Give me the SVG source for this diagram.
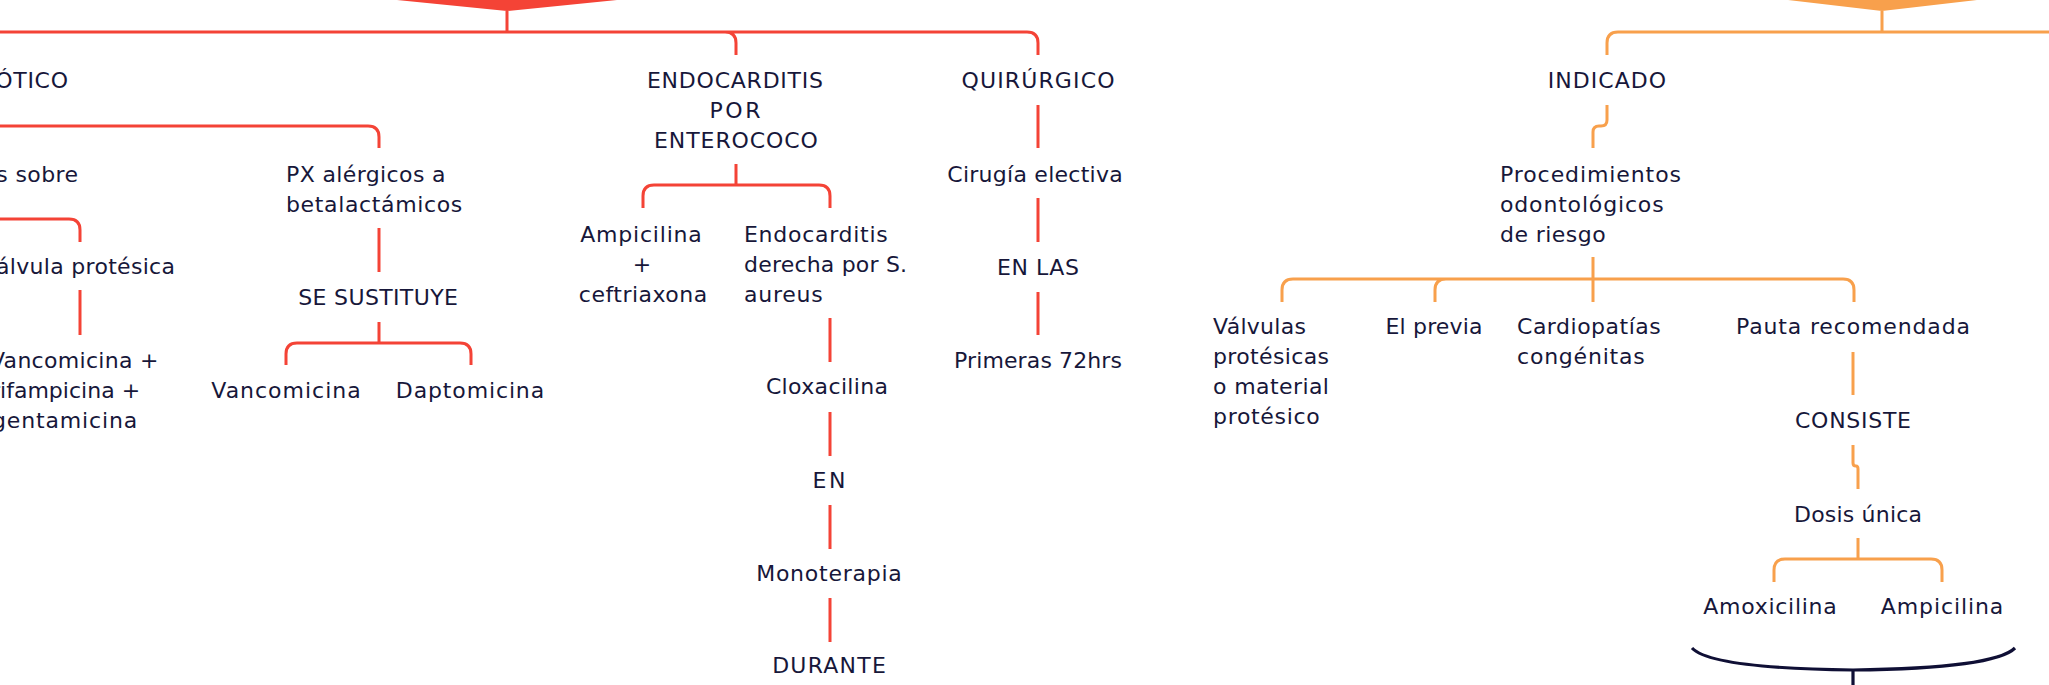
<svg xmlns="http://www.w3.org/2000/svg" width="2049" height="685" viewBox="0 0 2049 685">
<style>
text{font-family:"DejaVu Sans","Liberation Sans",sans-serif;font-size:22px;fill:#17173a;}
.m{text-anchor:middle;}
.e{text-anchor:end;}
.r{fill:none;stroke:#f44336;stroke-width:3;}
.o{fill:none;stroke:#f8a04c;stroke-width:3;}
.b{fill:none;stroke:#0f0f35;stroke-width:3.2;}
</style>
<rect width="2049" height="685" fill="#ffffff"/>
<polygon points="397,0 507,11 617,0" fill="#f44336"/>
<polygon points="1788,0 1882,11 1977,0" fill="#f8a04c"/>
<g id="connectors">
<path class="r" d="M507,11V32M507,32H-10M507,32H725Q736,32 736,43V55M507,32H1027Q1038,32 1038,43V55"/>
<path class="r" d="M-10,126H368Q379,126 379,137V148"/>
<path class="r" d="M-10,219H69Q80,219 80,230V242"/>
<path class="r" d="M80,290V335"/>
<path class="r" d="M379,228V272"/>
<path class="r" d="M379,322V343M379,343H297Q286,343 286,354V365M379,343H460Q471,343 471,354V365"/>
<path class="r" d="M736,164V185M736,185H654Q643,185 643,196V208M736,185H819Q830,185 830,196V208"/>
<path class="r" d="M830,318V362M830,412V456M830,505V549M830,598V642"/>
<path class="r" d="M1038,105V148M1038,198V242M1038,292V335"/>
<path class="o" d="M1882,11V32M1882,32H2060M1882,32H1618Q1607,32 1607,43V55"/>
<path class="o" d="M1607,105V120Q1607,126 1601,126H1599Q1593,126 1593,132V148"/>
<path class="o" d="M1593,257V302M1593,279H1293Q1282,279 1282,290V302M1593,279H1446Q1435,279 1435,290V302M1593,279H1843Q1854,279 1854,290V302"/>
<path class="o" d="M1853,352V395"/>
<path class="o" d="M1853,445V463Q1853,466 1856,466Q1858,466 1858,469V489"/>
<path class="o" d="M1858,538V559M1858,559H1785Q1774,559 1774,570V582M1858,559H1931Q1942,559 1942,570V582"/>
<path class="b" d="M1692,648C1706,663 1770,669 1853,670C1936,669 2000,663 2015,648M1853,670V690"/>
</g>
<g id="n-otico"><text class="e" x="68" y="88" textLength="72.7">ÓTICO</text></g>
<g id="n-sobre"><text class="e" x="78" y="182" textLength="81.7">s sobre</text></g>
<g id="n-valvula"><text class="e" x="175" y="274" textLength="179">álvula protésica</text></g>
<g id="n-vrg">
<text x="-10" y="368" textLength="168.4">Vancomicina +</text>
<text x="-9" y="398" textLength="149.1">rifampicina +</text>
<text x="-8" y="428" textLength="145.3">gentamicina</text>
</g>
<g id="n-px">
<text x="286" y="182" textLength="159.6">PX alérgicos a</text>
<text x="286" y="212" textLength="176.3">betalactámicos</text>
</g>
<g id="n-sustituye"><text class="m" x="378" y="305" textLength="159.7">SE SUSTITUYE</text></g>
<g id="n-vanco"><text class="m" x="286" y="398" textLength="149.3">Vancomicina</text></g>
<g id="n-dapto"><text class="m" x="470" y="398" textLength="148.3">Daptomicina</text></g>
<g id="n-endo">
<text class="m" x="735" y="88" textLength="176.1">ENDOCARDITIS</text>
<text class="m" x="735" y="118" textLength="51">POR</text>
<text class="m" x="736" y="148" textLength="163.9">ENTEROCOCO</text>
</g>
<g id="n-ampi">
<text class="m" x="641" y="242" textLength="121.6">Ampicilina</text>
<text class="m" x="642" y="272">+</text>
<text class="m" x="643" y="302" textLength="128.4">ceftriaxona</text>
</g>
<g id="n-endoder">
<text x="744" y="242" textLength="143.7">Endocarditis</text>
<text x="744" y="272" textLength="163.1">derecha por S.</text>
<text x="744" y="302" textLength="78.6">aureus</text>
</g>
<g id="n-cloxa"><text class="m" x="827" y="394" textLength="122.2">Cloxacilina</text></g>
<g id="n-en"><text class="m" x="829" y="488" textLength="32.8">EN</text></g>
<g id="n-mono"><text class="m" x="829" y="581" textLength="145.7">Monoterapia</text></g>
<g id="n-durante"><text class="m" x="829" y="673" textLength="113.6">DURANTE</text></g>
<g id="n-quir"><text class="m" x="1038" y="88" textLength="153">QUIRÚRGICO</text></g>
<g id="n-cirugia"><text class="m" x="1035" y="182" textLength="175.4">Cirugía electiva</text></g>
<g id="n-enlas"><text class="m" x="1038" y="275" textLength="81.9">EN LAS</text></g>
<g id="n-primeras"><text class="m" x="1038" y="368" textLength="168">Primeras 72hrs</text></g>
<g id="n-indicado"><text class="m" x="1607" y="88" textLength="118.3">INDICADO</text></g>
<g id="n-proc">
<text x="1500" y="182" textLength="181">Procedimientos</text>
<text x="1500" y="212" textLength="163.6">odontológicos</text>
<text x="1500" y="242" textLength="105.6">de riesgo</text>
</g>
<g id="n-valvulas">
<text x="1213" y="334" textLength="93">Válvulas</text>
<text x="1213" y="364" textLength="116">protésicas</text>
<text x="1213" y="394" textLength="115.9">o material</text>
<text x="1213" y="424" textLength="106.8">protésico</text>
</g>
<g id="n-eiprevia"><text class="m" x="1434" y="334" textLength="97.2">El previa</text></g>
<g id="n-cardio">
<text x="1517" y="334" textLength="143.8">Cardiopatías</text>
<text x="1517" y="364" textLength="127.7">congénitas</text>
</g>
<g id="n-pauta"><text class="m" x="1853" y="334" textLength="234">Pauta recomendada</text></g>
<g id="n-consiste"><text class="m" x="1853" y="428" textLength="116">CONSISTE</text></g>
<g id="n-dosis"><text class="m" x="1858" y="522" textLength="128">Dosis única</text></g>
<g id="n-amoxi"><text class="m" x="1770" y="614" textLength="133.5">Amoxicilina</text></g>
<g id="n-ampi2"><text class="m" x="1942" y="614" textLength="122.5">Ampicilina</text></g>
</svg>
